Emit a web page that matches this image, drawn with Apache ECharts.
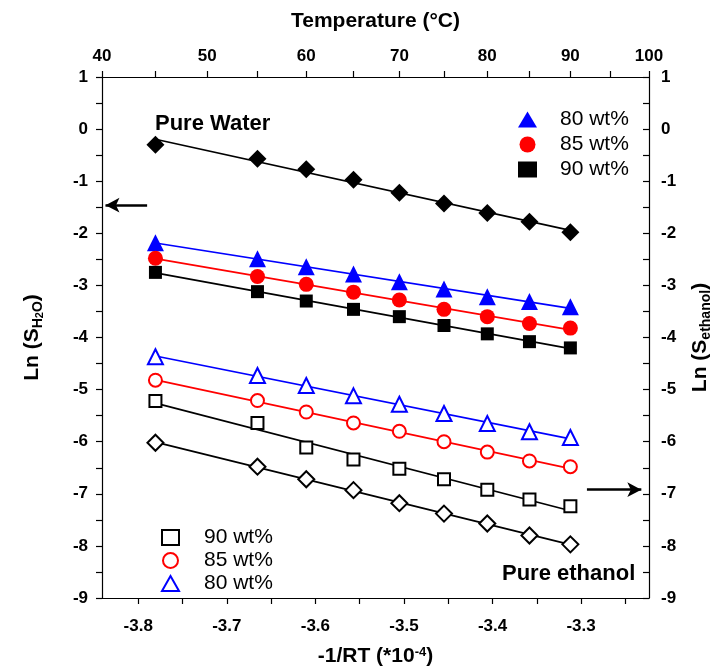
<!DOCTYPE html>
<html><head><meta charset="utf-8">
<script src="https://cdn.jsdelivr.net/npm/echarts@6/dist/echarts.min.js"></script>
<style>html,body{margin:0;padding:0;background:#fff}#c{width:721px;height:672px}</style>
</head><body><div id="c"></div>
<script>
// -1/RT (*10^-4) at 45,55,60,65,70,75,80,85,90 °C
const xValues = [-3.7806, -3.6654, -3.6103, -3.5570, -3.5052, -3.4548, -3.4059, -3.3583, -3.3121];
const pureWater   = [-0.30, -0.57, -0.77, -0.97, -1.22, -1.43, -1.61, -1.78, -1.98];
const water80     = [-2.18, -2.49, -2.64, -2.78, -2.93, -3.07, -3.22, -3.31, -3.41];
const water85     = [-2.48, -2.83, -2.98, -3.13, -3.28, -3.46, -3.60, -3.73, -3.82];
const water90     = [-2.75, -3.12, -3.30, -3.46, -3.60, -3.77, -3.93, -4.08, -4.20];
const ethanol80   = [-4.37, -4.73, -4.92, -5.12, -5.28, -5.46, -5.65, -5.81, -5.92];
const ethanol85   = [-4.82, -5.21, -5.43, -5.64, -5.80, -6.00, -6.20, -6.37, -6.48];
const ethanol90   = [-5.22, -5.64, -6.11, -6.34, -6.52, -6.72, -6.92, -7.11, -7.24];
const pureEthanol = [-6.02, -6.48, -6.72, -6.93, -7.18, -7.38, -7.57, -7.80, -7.97];

const bottomTickLabels = [-3.8, -3.7, -3.6, -3.5, -3.4, -3.3];
const bottomTicks = [-3.8, -3.75, -3.7, -3.65, -3.6, -3.55, -3.5, -3.45, -3.4, -3.35, -3.3, -3.25];
const tempLabels = [40, 50, 60, 70, 80, 90, 100];
const tempTicks = [40, 45, 50, 55, 60, 65, 70, 75, 80, 85, 90, 95, 100];
const legendNames = {W80: '80 wt%', W85: '85 wt%', W90: '90 wt%', E90: '90 wt%', E85: '85 wt%', E80: '80 wt%'};
const leftArrow = [[-3.837, -1.46], [-3.790, -1.46]];
const rightArrow = [[-3.2934, -6.92], [-3.2320, -6.92]];

const FONT = '"Liberation Sans", Arial, sans-serif';
const BLUE = '#0000ff', RED = '#ff0000', BLACK = '#000000';
const toX = t => -1e4 / (8.314 * (t + 273.15));
const toT = x => -1e4 / (8.314 * x) - 273.15;
const xMin = toX(40), xMax = toX(100);

const pts = ys => ys.map((y, i) => [xValues[i], y]);
function fit(ys) {
  const n = ys.length; let sx = 0, sy = 0, sxx = 0, sxy = 0;
  for (let i = 0; i < n; i++) { const x = xValues[i]; sx += x; sy += ys[i]; sxx += x * x; sxy += x * ys[i]; }
  const b = (n * sxy - sx * sy) / (n * sxx - sx * sx), a = (sy - b * sx) / n;
  const x0 = xValues[0], x1 = xValues[n - 1];
  return [[x0, a + b * x0], [x1, a + b * x1]];
}
function lineS(ys, color) {
  return {type: 'line', data: fit(ys), showSymbol: false, symbol: 'none', silent: true,
    lineStyle: {color: color, width: 1.7}, z: 2};
}
function scat(name, ys, symbol, size, color, empty) {
  return {name: name, type: 'scatter', data: pts(ys), symbol: symbol, symbolSize: size, z: 5,
    itemStyle: empty ? {color: color, borderColor: color, borderWidth: 1.7, opacity: 1} : {color: color, opacity: 1}};
}

const chart = echarts.init(document.getElementById('c'), null, {renderer: 'canvas'});
const axisLine = {show: true, onZero: false, lineStyle: {color: '#000', width: 1.2}};
const labelStyle = {color: '#000', fontFamily: FONT, fontWeight: 'bold', fontSize: 17};

chart.setOption({
  animation: false,
  backgroundColor: '#fff',
  grid: {left: 102, right: 65, top: 77, bottom: 70},
  xAxis: [
    {type: 'value', position: 'bottom', min: xMin, max: xMax,
      axisLine: axisLine, splitLine: {show: false},
      axisTick: {show: true, inside: false, length: 6, lineStyle: {color: '#000', width: 1.2}, customValues: bottomTicks},
      axisLabel: Object.assign({margin: 20, customValues: bottomTickLabels, formatter: v => v.toFixed(1)}, labelStyle),
      name: '-1/RT (*10{sup|-4})', nameLocation: 'middle', nameGap: 48,
      nameTextStyle: {color: '#000', fontFamily: FONT, fontWeight: 'bold', fontSize: 21,
        rich: {sup: {fontFamily: FONT, fontWeight: 'bold', fontSize: 13, verticalAlign: 'top', lineHeight: 12, padding: [0, 0, 8, 0]}}}
    },
    {type: 'value', position: 'top', min: xMin, max: xMax,
      axisLine: axisLine, splitLine: {show: false},
      axisTick: {show: true, inside: false, length: 6, lineStyle: {color: '#000', width: 1.2}, customValues: tempTicks.map(toX)},
      axisLabel: Object.assign({margin: 12, customValues: tempLabels.map(toX), formatter: v => String(Math.round(toT(v)))}, labelStyle),
      name: 'Temperature (°C)', nameLocation: 'middle', nameGap: 45,
      nameTextStyle: {color: '#000', fontFamily: FONT, fontWeight: 'bold', fontSize: 21}
    }
  ],
  yAxis: [
    {type: 'value', position: 'left', min: -9, max: 1, interval: 1,
      axisLine: axisLine, splitLine: {show: false},
      axisTick: {show: true, inside: false, length: 6, lineStyle: {color: '#000', width: 1.2}},
      minorTick: {show: true, splitNumber: 2, length: 6, lineStyle: {color: '#000', width: 1.2}},
      axisLabel: Object.assign({margin: 14}, labelStyle),
      name: 'Ln (S{sub|H}{sub2|2}{sub|O})', nameLocation: 'middle', nameRotate: 90, nameGap: 70,
      nameTextStyle: {color: '#000', fontFamily: FONT, fontWeight: 'bold', fontSize: 21, lineHeight: 26, verticalAlign: 'middle',
        rich: {
          sub: {fontFamily: FONT, fontWeight: 'bold', fontSize: 14, lineHeight: 14, verticalAlign: 'bottom'},
          sub2: {fontFamily: FONT, fontWeight: 'bold', fontSize: 11, lineHeight: 10, verticalAlign: 'bottom'}
        }}
    },
    {type: 'value', position: 'right', min: -9, max: 1, interval: 1,
      axisLine: axisLine, splitLine: {show: false},
      axisTick: {show: true, inside: true, length: 6, lineStyle: {color: '#000', width: 1.2}},
      minorTick: {show: true, splitNumber: 2, length: 6, lineStyle: {color: '#000', width: 1.2}},
      axisLabel: Object.assign({margin: 12}, labelStyle),
      name: 'Ln (S{sub|ethanol})', nameLocation: 'middle', nameRotate: 90, nameGap: 47,
      nameTextStyle: {color: '#000', fontFamily: FONT, fontWeight: 'bold', fontSize: 21, lineHeight: 26, verticalAlign: 'middle',
        rich: {sub: {fontFamily: FONT, fontWeight: 'bold', fontSize: 14, lineHeight: 14, verticalAlign: 'bottom'}}}
    }
  ],
  legend: [
    {data: ['W80', 'W85', 'W90'], orient: 'vertical', left: 513, top: 104, itemGap: 4,
      itemWidth: 19, itemHeight: 16, formatter: n => legendNames[n], selectedMode: false,
      textStyle: {color: '#000', fontFamily: FONT, fontSize: 21, lineHeight: 21, padding: [0, 0, 0, 18]}},
    {data: ['E90', 'E85', 'E80'], orient: 'vertical', left: 156, top: 522, itemGap: 2,
      itemWidth: 17, itemHeight: 15, formatter: n => legendNames[n], selectedMode: false,
      textStyle: {color: '#000', fontFamily: FONT, fontSize: 21, lineHeight: 21, padding: [0, 0, 0, 20]}}
  ],
  series: [
    lineS(pureWater, BLACK), lineS(water80, BLUE), lineS(water85, RED), lineS(water90, BLACK),
    lineS(ethanol80, BLUE), lineS(ethanol85, RED), lineS(ethanol90, BLACK), lineS(pureEthanol, BLACK),
    Object.assign(scat('PW', pureWater, 'diamond', [18, 18], BLACK, false), {
      markLine: {silent: true, symbol: ['arrow', 'none'], symbolSize: [11, 14], label: {show: false},
        lineStyle: {color: '#000', width: 2.6, type: 'solid', opacity: 1},
        data: [[{coord: leftArrow[0], symbol: 'arrow'}, {coord: leftArrow[1], symbol: 'none'}],
               [{coord: rightArrow[0], symbol: 'none'}, {coord: rightArrow[1], symbol: 'arrow'}]]}
    }),
    scat('W80', water80, 'triangle', 17, BLUE, false),
    scat('W85', water85, 'circle', 15, RED, false),
    scat('W90', water90, 'rect', 13, BLACK, false),
    scat('E80', ethanol80, 'emptyTriangle', 15, BLUE, true),
    scat('E85', ethanol85, 'emptyCircle', 13, RED, true),
    scat('E90', ethanol90, 'emptyRect', 12, BLACK, true),
    scat('PE', pureEthanol, 'emptyDiamond', [16, 16], BLACK, true)
  ],
  graphic: [
    {type: 'text', left: 155, top: 113, style: {text: 'Pure Water', fill: '#000', font: 'bold 22px ' + FONT}},
    {type: 'text', left: 502, top: 563, style: {text: 'Pure ethanol', fill: '#000', font: 'bold 22px ' + FONT}}
  ]
});
</script></body></html>
